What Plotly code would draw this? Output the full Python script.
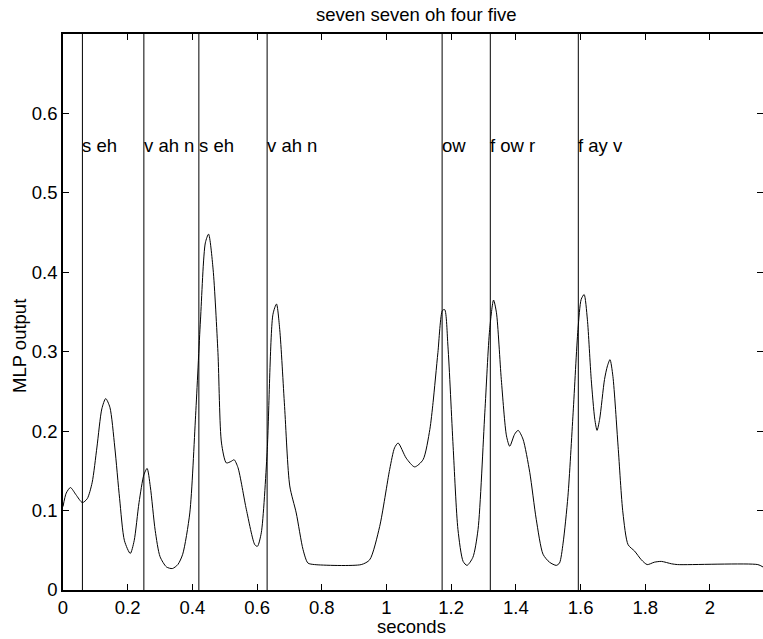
import plotly.graph_objects as go

# MLP output curve (seconds, value)
time_s = [0.000, 0.010, 0.023, 0.040, 0.060, 0.075, 0.090, 0.105, 0.120, 0.132,
          0.145, 0.160, 0.175, 0.190, 0.208, 0.220, 0.235, 0.250, 0.260, 0.270,
          0.285, 0.300, 0.320, 0.338, 0.355, 0.370, 0.392, 0.410, 0.425, 0.440,
          0.450, 0.464, 0.479, 0.490, 0.505, 0.520, 0.529, 0.541, 0.567, 0.593,
          0.601, 0.613, 0.631, 0.649, 0.660, 0.670, 0.685, 0.701, 0.721, 0.742,
          0.757, 0.778, 0.922, 0.948, 0.979, 1.010, 1.025, 1.036, 1.061, 1.087,
          1.113, 1.134, 1.144, 1.159, 1.173, 1.180, 1.190, 1.206, 1.221, 1.237,
          1.249, 1.267, 1.283, 1.304, 1.319, 1.331, 1.340, 1.355, 1.371, 1.381,
          1.396, 1.407, 1.422, 1.443, 1.463, 1.484, 1.504, 1.525, 1.535, 1.546,
          1.561, 1.577, 1.592, 1.602, 1.611, 1.621, 1.633, 1.644, 1.651, 1.659,
          1.674, 1.683, 1.691, 1.700, 1.716, 1.731, 1.747, 1.767, 1.788, 1.806,
          1.828, 1.850, 1.881, 1.900, 2.148, 2.164]
mlp_output = [0.105, 0.122, 0.129, 0.120, 0.110, 0.115, 0.135, 0.180, 0.228, 0.241,
              0.230, 0.180, 0.115, 0.062, 0.046, 0.062, 0.110, 0.145, 0.153, 0.130,
              0.075, 0.042, 0.029, 0.027, 0.032, 0.045, 0.097, 0.220, 0.340, 0.437,
              0.448, 0.404, 0.299, 0.185, 0.160, 0.162, 0.164, 0.154, 0.101, 0.057,
              0.055, 0.072, 0.173, 0.347, 0.360, 0.328, 0.231, 0.131, 0.097, 0.051,
              0.034, 0.032, 0.032, 0.038, 0.080, 0.152, 0.179, 0.185, 0.166, 0.155,
              0.164, 0.202, 0.236, 0.299, 0.352, 0.353, 0.307, 0.181, 0.076, 0.036,
              0.031, 0.041, 0.076, 0.223, 0.328, 0.365, 0.349, 0.265, 0.194, 0.181,
              0.196, 0.201, 0.190, 0.148, 0.089, 0.045, 0.035, 0.031, 0.034, 0.059,
              0.118, 0.223, 0.328, 0.366, 0.372, 0.341, 0.265, 0.215, 0.201, 0.215,
              0.265, 0.282, 0.290, 0.269, 0.181, 0.097, 0.057, 0.049, 0.038, 0.032,
              0.035, 0.036, 0.033, 0.032, 0.032, 0.029]

# Word boundaries and phoneme labels
boundaries = [0.060, 0.250, 0.420, 0.631, 1.172, 1.321, 1.593]
phonemes = ["s eh", "v ah n", "s eh", "v ah n", "ow", "f ow r", "f ay v"]
label_y = 0.559

x_ticks = [0, 0.2, 0.4, 0.6, 0.8, 1, 1.2, 1.4, 1.6, 1.8, 2]
x_tick_text = ["0", "0.2", "0.4", "0.6", "0.8", "1", "1.2", "1.4", "1.6", "1.8", "2"]
y_ticks = [0, 0.1, 0.2, 0.3, 0.4, 0.5, 0.6]
y_tick_text = ["0", "0.1", "0.2", "0.3", "0.4", "0.5", "0.6"]

title_text = "seven seven oh four five"
x_title = "seconds"
y_title = "MLP output"

FONT = "Liberation Sans, Arial, Helvetica, sans-serif"
FS = 18.5

fig = go.Figure()
fig.add_trace(go.Scatter(x=time_s, y=mlp_output, mode="lines",
                         line=dict(color="black", width=1, shape="spline", smoothing=0.7),
                         hoverinfo="skip", showlegend=False))

for b, lab in zip(boundaries, phonemes):
    fig.add_shape(type="line", xref="x", yref="y", x0=b, x1=b, y0=0, y1=0.7,
                  line=dict(color="black", width=1))
    fig.add_annotation(x=b, y=label_y, xref="x", yref="y", text=lab, showarrow=False,
                       xanchor="left", yanchor="middle", xshift=-2,
                       font=dict(family=FONT, size=FS, color="black"))

# Title and axis titles
fig.add_annotation(x=(417 - 63) / 700, y=1, xref="paper", yref="paper",
                   text=title_text, showarrow=False, xanchor="center", yanchor="middle",
                   yshift=20, font=dict(family=FONT, size=FS, color="black"))
fig.add_annotation(x=(411 - 63) / 700, y=0, xref="paper", yref="paper", text=x_title,
                   showarrow=False, xanchor="center", yanchor="middle", yshift=-36,
                   font=dict(family=FONT, size=FS, color="black"))
fig.add_annotation(x=0, y=(590 - 346) / 556, xref="paper", yref="paper", text=y_title,
                   showarrow=False, textangle=-90, xanchor="center", yanchor="middle",
                   xshift=-44, font=dict(family=FONT, size=FS, color="black"))

fig.update_layout(
    width=763, height=639,
    margin=dict(l=63, r=0, t=34, b=49, autoexpand=False),
    paper_bgcolor="white", plot_bgcolor="white",
    showlegend=False,
    font=dict(family=FONT, size=FS, color="black"),
)
fig.update_xaxes(range=[0, 2.164], tickvals=x_ticks, ticktext=x_tick_text,
                 ticks="inside", ticklen=6, tickcolor="black", tickwidth=1,
                 showline=True, linecolor="black", linewidth=1.5, mirror="ticks",
                 showgrid=False, zeroline=False, automargin=False,
                 tickfont=dict(family=FONT, size=FS, color="black"))
fig.update_yaxes(range=[0, 0.7], tickvals=y_ticks, ticktext=y_tick_text,
                 ticks="inside", ticklen=6, tickcolor="black", tickwidth=1,
                 showline=True, linecolor="black", linewidth=1.5, mirror="ticks",
                 showgrid=False, zeroline=False, automargin=False,
                 tickfont=dict(family=FONT, size=FS, color="black"))

fig.write_html("out.html", config={"displayModeBar": False},
               post_script="document.body.style.margin='0';document.body.style.overflow='hidden';")
